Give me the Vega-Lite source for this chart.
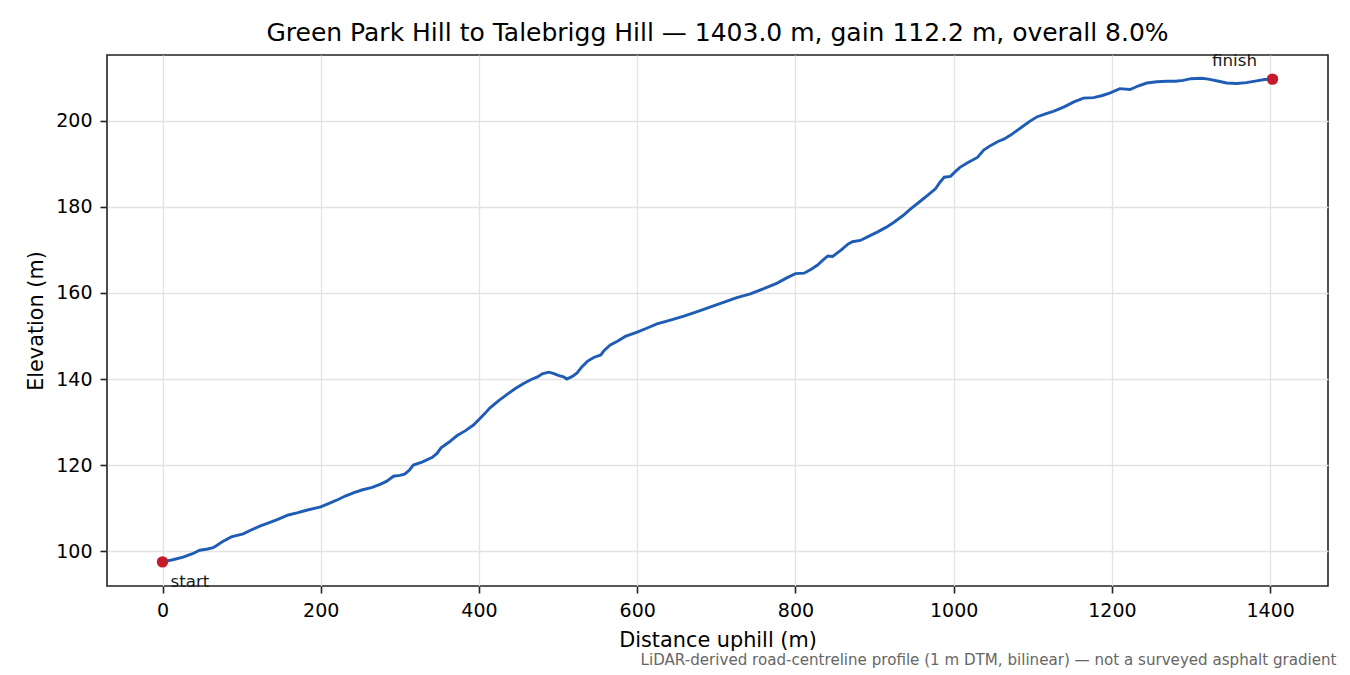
{
  "$schema": "https://vega.github.io/schema/vega-lite/v6.json",
  "width": 1221,
  "height": 531,
  "autosize": {"type": "none"},
  "padding": {"left": 107, "top": 55, "right": 22, "bottom": 89},
  "background": "white",
  "title": {
    "text": "Green Park Hill to Talebrigg Hill — 1403.0 m, gain 112.2 m, overall 8.0%",
    "anchor": "middle",
    "font": "DejaVu Sans",
    "fontSize": 25,
    "fontWeight": "normal",
    "color": "#000000",
    "offset": 7
  },
  "datasets": {
    "profile": [
      {"distance": 0, "elevation": 97.5},
      {"distance": 13, "elevation": 98.0},
      {"distance": 26, "elevation": 98.6},
      {"distance": 38, "elevation": 99.4},
      {"distance": 47, "elevation": 100.2},
      {"distance": 57, "elevation": 100.5},
      {"distance": 64, "elevation": 100.8},
      {"distance": 70, "elevation": 101.5},
      {"distance": 75, "elevation": 102.1},
      {"distance": 87, "elevation": 103.3},
      {"distance": 102, "elevation": 104.0},
      {"distance": 112, "elevation": 104.9},
      {"distance": 123, "elevation": 105.8},
      {"distance": 135, "elevation": 106.6},
      {"distance": 145, "elevation": 107.3},
      {"distance": 159, "elevation": 108.4},
      {"distance": 170, "elevation": 108.9},
      {"distance": 182, "elevation": 109.5},
      {"distance": 200, "elevation": 110.3},
      {"distance": 212, "elevation": 111.2},
      {"distance": 222, "elevation": 112.0},
      {"distance": 231, "elevation": 112.8},
      {"distance": 242, "elevation": 113.6},
      {"distance": 252, "elevation": 114.2},
      {"distance": 265, "elevation": 114.8},
      {"distance": 275, "elevation": 115.5},
      {"distance": 283, "elevation": 116.2},
      {"distance": 292, "elevation": 117.4},
      {"distance": 300, "elevation": 117.6},
      {"distance": 306, "elevation": 117.9},
      {"distance": 312, "elevation": 118.8},
      {"distance": 317, "elevation": 120.0},
      {"distance": 328, "elevation": 120.7},
      {"distance": 341, "elevation": 121.8},
      {"distance": 347, "elevation": 122.7},
      {"distance": 352, "elevation": 124.0},
      {"distance": 362, "elevation": 125.3},
      {"distance": 372, "elevation": 126.8},
      {"distance": 383, "elevation": 128.0},
      {"distance": 393, "elevation": 129.3},
      {"distance": 400, "elevation": 130.6},
      {"distance": 407, "elevation": 131.9},
      {"distance": 414, "elevation": 133.3},
      {"distance": 425, "elevation": 135.0},
      {"distance": 436, "elevation": 136.5},
      {"distance": 446, "elevation": 137.8},
      {"distance": 457, "elevation": 139.0},
      {"distance": 466, "elevation": 139.9},
      {"distance": 474, "elevation": 140.5},
      {"distance": 480, "elevation": 141.2},
      {"distance": 488, "elevation": 141.6},
      {"distance": 494, "elevation": 141.3},
      {"distance": 501, "elevation": 140.8},
      {"distance": 507, "elevation": 140.5},
      {"distance": 511, "elevation": 140.0},
      {"distance": 518, "elevation": 140.6},
      {"distance": 524, "elevation": 141.4},
      {"distance": 530, "elevation": 142.8},
      {"distance": 537, "elevation": 144.1},
      {"distance": 545, "elevation": 145.0},
      {"distance": 554, "elevation": 145.6},
      {"distance": 558, "elevation": 146.6},
      {"distance": 566, "elevation": 147.9},
      {"distance": 575, "elevation": 148.8},
      {"distance": 585, "elevation": 149.9},
      {"distance": 600, "elevation": 150.9},
      {"distance": 612, "elevation": 151.8},
      {"distance": 625, "elevation": 152.8},
      {"distance": 642, "elevation": 153.7},
      {"distance": 659, "elevation": 154.6},
      {"distance": 675, "elevation": 155.6},
      {"distance": 692, "elevation": 156.7},
      {"distance": 709, "elevation": 157.8},
      {"distance": 726, "elevation": 158.9},
      {"distance": 743, "elevation": 159.8},
      {"distance": 760, "elevation": 161.0},
      {"distance": 777, "elevation": 162.3},
      {"distance": 789, "elevation": 163.5},
      {"distance": 800, "elevation": 164.5},
      {"distance": 811, "elevation": 164.6},
      {"distance": 820, "elevation": 165.5},
      {"distance": 828, "elevation": 166.5},
      {"distance": 835, "elevation": 167.7},
      {"distance": 841, "elevation": 168.6},
      {"distance": 847, "elevation": 168.5},
      {"distance": 858, "elevation": 170.0},
      {"distance": 866, "elevation": 171.3},
      {"distance": 872, "elevation": 171.9},
      {"distance": 882, "elevation": 172.2},
      {"distance": 893, "elevation": 173.2},
      {"distance": 904, "elevation": 174.2},
      {"distance": 915, "elevation": 175.3},
      {"distance": 925, "elevation": 176.5},
      {"distance": 936, "elevation": 178.0},
      {"distance": 946, "elevation": 179.6},
      {"distance": 957, "elevation": 181.2},
      {"distance": 967, "elevation": 182.7},
      {"distance": 977, "elevation": 184.2},
      {"distance": 983, "elevation": 185.8},
      {"distance": 988, "elevation": 186.9},
      {"distance": 996, "elevation": 187.1},
      {"distance": 1002, "elevation": 188.2},
      {"distance": 1008, "elevation": 189.2},
      {"distance": 1017, "elevation": 190.2},
      {"distance": 1030, "elevation": 191.5},
      {"distance": 1038, "elevation": 193.2},
      {"distance": 1047, "elevation": 194.3},
      {"distance": 1056, "elevation": 195.2},
      {"distance": 1064, "elevation": 195.8},
      {"distance": 1072, "elevation": 196.7},
      {"distance": 1088, "elevation": 198.8},
      {"distance": 1097, "elevation": 200.0},
      {"distance": 1105, "elevation": 200.9},
      {"distance": 1116, "elevation": 201.6},
      {"distance": 1126, "elevation": 202.2},
      {"distance": 1139, "elevation": 203.2},
      {"distance": 1152, "elevation": 204.4},
      {"distance": 1164, "elevation": 205.3},
      {"distance": 1177, "elevation": 205.4},
      {"distance": 1188, "elevation": 205.9},
      {"distance": 1198, "elevation": 206.5},
      {"distance": 1210, "elevation": 207.5},
      {"distance": 1223, "elevation": 207.3},
      {"distance": 1233, "elevation": 208.1},
      {"distance": 1244, "elevation": 208.8},
      {"distance": 1257, "elevation": 209.1},
      {"distance": 1269, "elevation": 209.2},
      {"distance": 1280, "elevation": 209.2},
      {"distance": 1290, "elevation": 209.4},
      {"distance": 1300, "elevation": 209.8},
      {"distance": 1313, "elevation": 209.9},
      {"distance": 1322, "elevation": 209.7},
      {"distance": 1335, "elevation": 209.2},
      {"distance": 1345, "elevation": 208.8},
      {"distance": 1358, "elevation": 208.7},
      {"distance": 1370, "elevation": 208.9},
      {"distance": 1383, "elevation": 209.3},
      {"distance": 1393, "elevation": 209.6},
      {"distance": 1403, "elevation": 209.7}
    ],
    "ends": [
      {"distance": 0, "elevation": 97.5, "label": "start"},
      {"distance": 1403, "elevation": 209.7, "label": "finish"}
    ],
    "note": [
      {"text": "LiDAR-derived road-centreline profile (1 m DTM, bilinear) — not a surveyed asphalt gradient"}
    ]
  },
  "layer": [
    {
      "data": {"name": "profile"},
      "mark": {"type": "line", "color": "#1f5db4", "strokeWidth": 2.9, "clip": true},
      "encoding": {
        "x": {
          "field": "distance",
          "type": "quantitative",
          "title": "Distance uphill (m)",
          "scale": {"domain": [-70.15, 1473.15], "nice": false, "zero": false},
          "axis": {"values": [0, 200, 400, 600, 800, 1000, 1200, 1400], "format": "d"}
        },
        "y": {
          "field": "elevation",
          "type": "quantitative",
          "title": "Elevation (m)",
          "scale": {"domain": [91.89, 215.31], "nice": false, "zero": false},
          "axis": {"values": [100, 120, 140, 160, 180, 200], "format": "d"}
        }
      }
    },
    {
      "data": {"name": "ends"},
      "mark": {"type": "circle", "color": "#c41a2a", "opacity": 1, "size": 130},
      "encoding": {
        "x": {"field": "distance", "type": "quantitative"},
        "y": {"field": "elevation", "type": "quantitative"}
      }
    },
    {
      "data": {"name": "ends"},
      "transform": [{"filter": "datum.label === 'start'"}],
      "mark": {"type": "text", "align": "left", "baseline": "alphabetic", "dx": 8, "dy": 25, "fontSize": 16.7, "font": "DejaVu Sans", "color": "#1a1a1a"},
      "encoding": {
        "x": {"field": "distance", "type": "quantitative"},
        "y": {"field": "elevation", "type": "quantitative"},
        "text": {"field": "label"}
      }
    },
    {
      "data": {"name": "ends"},
      "transform": [{"filter": "datum.label === 'finish'"}],
      "mark": {"type": "text", "align": "center", "baseline": "alphabetic", "dx": -38, "dy": -13, "fontSize": 16.7, "font": "DejaVu Sans", "color": "#1a1a1a"},
      "encoding": {
        "x": {"field": "distance", "type": "quantitative"},
        "y": {"field": "elevation", "type": "quantitative"},
        "text": {"field": "label"}
      }
    },
    {
      "data": {"name": "note"},
      "mark": {"type": "text", "align": "right", "baseline": "alphabetic", "dx": 8.5, "dy": 79, "fontSize": 15.1, "font": "DejaVu Sans", "color": "#666666", "clip": false},
      "encoding": {
        "x": {"value": "width"},
        "y": {"value": "height"},
        "text": {"field": "text"}
      }
    }
  ],
  "config": {
    "font": "DejaVu Sans",
    "view": {"stroke": "#222222", "strokeWidth": 1.6},
    "axis": {
      "domain": false,
      "grid": true,
      "gridColor": "#e3e3e3",
      "gridWidth": 1.3,
      "ticks": true,
      "tickColor": "#222222",
      "tickWidth": 1.6,
      "tickSize": 7,
      "labelFont": "DejaVu Sans",
      "labelFontSize": 19,
      "labelColor": "#000000",
      "labelPadding": 8,
      "titleFont": "DejaVu Sans",
      "titleFontSize": 20.8,
      "titleFontWeight": "normal",
      "titleColor": "#000000"
    },
    "axisX": {"titlePadding": 10, "labelFlush": false},
    "axisY": {"titlePadding": 9, "labelFlush": false}
  }
}
